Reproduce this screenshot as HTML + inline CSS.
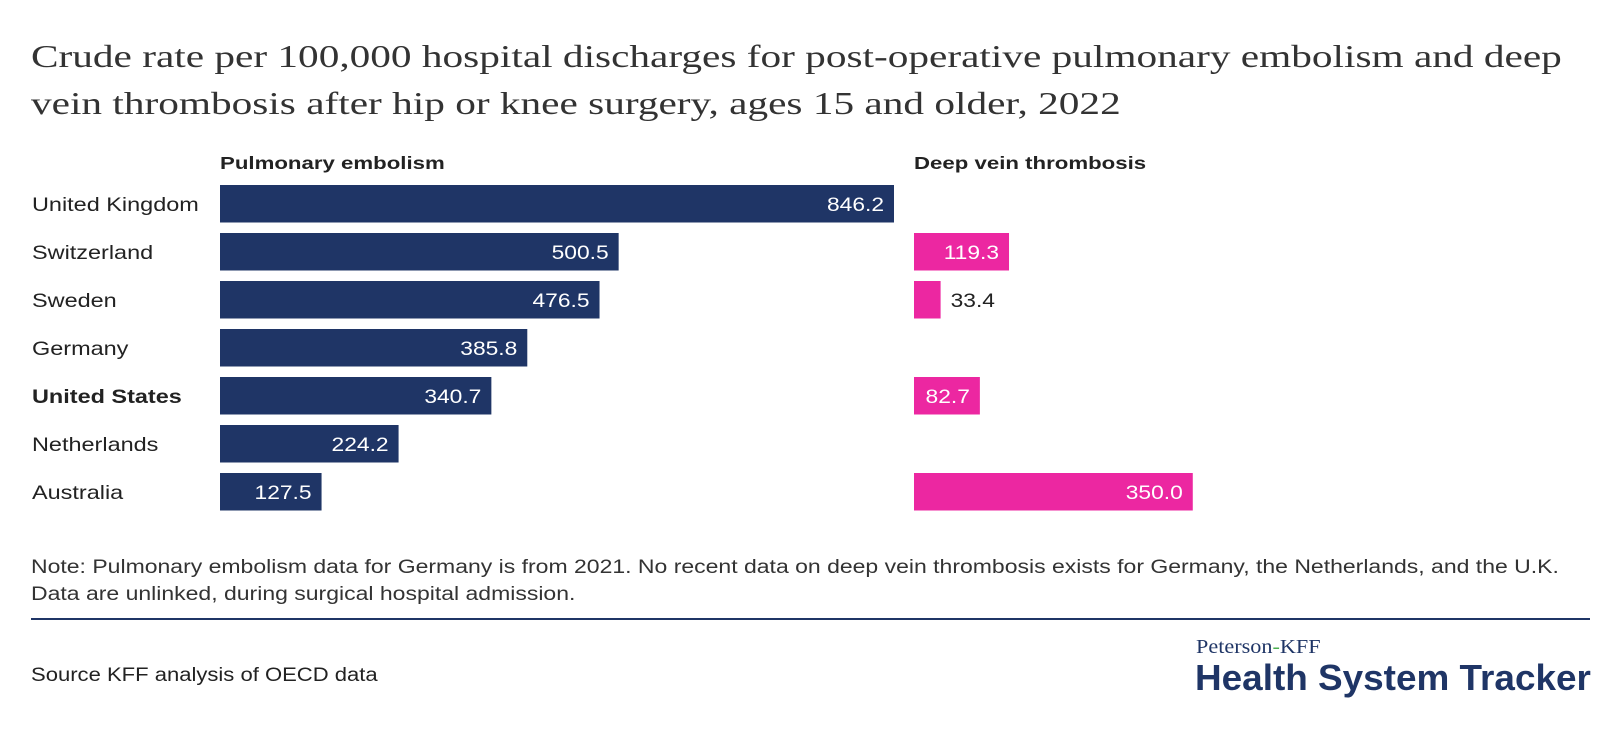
<!DOCTYPE html>
<html><head><meta charset="utf-8"><style>
body{margin:0;width:1620px;height:756px;background:#fff;overflow:hidden;font-family:"Liberation Sans",sans-serif;color:#222}
.t{position:absolute;white-space:nowrap;transform-origin:0 0}
</style></head><body>
<div class="t" style="left:31px;top:33px;font-family:'Liberation Serif',serif;font-size:32px;line-height:47px;color:#333;transform:scaleX(1.29)">Crude rate per 100,000 hospital discharges for post-operative pulmonary embolism and deep<br>vein thrombosis after hip or knee surgery, ages 15 and older, 2022</div>
<svg id="c" width="1620" height="756" style="position:absolute;left:0;top:0"></svg>
<div class="t" style="left:31px;top:554px;font-size:19px;line-height:27px;color:#333;transform:scaleX(1.21)">Note: Pulmonary embolism data for Germany is from 2021. No recent data on deep vein thrombosis exists for Germany, the Netherlands, and the U.K.<br>Data are unlinked, during surgical hospital admission.</div>
<div style="position:absolute;left:31px;top:618px;width:1559px;height:2px;background:#1f3566"></div>
<div class="t" style="left:31px;top:665px;font-size:19px;color:#222;transform:scaleX(1.16)">Source KFF analysis of OECD data</div>
<div class="t" style="left:1196px;top:636px;font-family:'Liberation Serif',serif;font-size:20px;color:#1f3566;transform:scaleX(1.11)">Peterson<span style="color:#4caf50">-</span>KFF</div>
<div class="t" style="left:1195px;top:657px;font-size:36px;font-weight:bold;color:#1f3566;transform:scaleX(1.025)">Health System Tracker</div>
<script>
const countries=["United Kingdom","Switzerland","Sweden","Germany","United States","Netherlands","Australia"];
const pe=[846.2,500.5,476.5,385.8,340.7,224.2,127.5];
const dvt=[null,119.3,33.4,null,82.7,null,350.0];
const svg=document.getElementById('c');const NS='http://www.w3.org/2000/svg';
const k=0.7965;
const y=i=>185+i*48;
function el(t,a,txt){const e=document.createElementNS(NS,t);for(const n in a)e.setAttribute(n,a[n]);if(txt!=null)e.textContent=txt;svg.appendChild(e);return e;}
function tx(x,yy,s,a,txt){a.x=0;a.y=0;a.transform=`translate(${x},${yy}) scale(${s},1)`;return el('text',a,txt);}
let h=tx(220,169,1.235,{'font-size':18,'font-weight':'bold',fill:'#222'},'Pulmonary embolism');


h=tx(914,169,1.235,{'font-size':18,'font-weight':'bold',fill:'#222'},'Deep vein thrombosis');


function bar(x0,v,i,col,name){
  const w=v*k;
  const r=el('rect',{x:x0,y:y(i),width:w,height:37.5,fill:col});
  
  
  const s=v.toFixed(1);const inside=w>50;
  const t=tx(inside?x0+w-10:x0+w+10,y(i)+26,1.2,{'font-size':19,fill:inside?'#fff':'#222','text-anchor':inside?'end':'start'},s);
  
  
}
countries.forEach((c,i)=>{
  const t=tx(32,y(i)+26,1.235,{'font-size':19,fill:'#222','font-weight':c==='United States'?'bold':'normal'},c);
  
  
  bar(220,pe[i],i,'#1f3566','pe-bar');
  if(dvt[i]!=null)bar(914,dvt[i],i,'#ec27a1','dvt-bar');
});
</script>
</body></html>
